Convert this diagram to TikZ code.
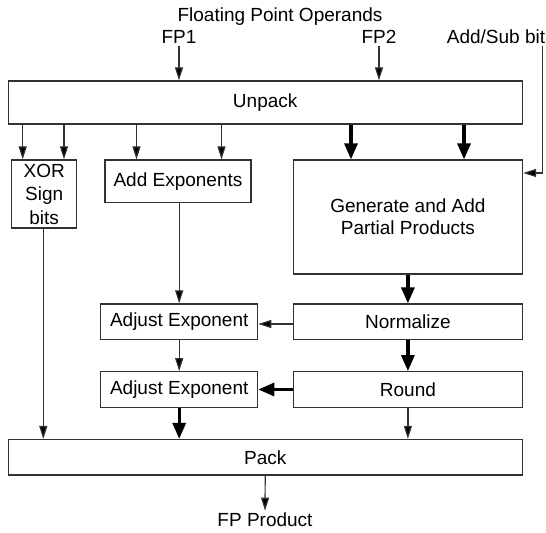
\documentclass[tikz,border=0pt]{standalone}
\usepackage{fontspec}
\setmainfont{Liberation Sans}
\usetikzlibrary{arrows.meta}
\definecolor{linecol}{RGB}{50,50,50}
\tikzset{
  blk/.style={draw=linecol, line width=0.6pt, inner sep=0pt, align=center,
    font=\fontsize{9.5}{11.5}\selectfont},
  lbl/.style={inner sep=1pt, font=\fontsize{9.5}{11.5}\selectfont},
  thinarr/.style={draw=linecol, line width=0.6pt,
    -{Triangle[length=6.5pt,width=4pt,fill=black]}},
  thickarr/.style={draw=black, line width=1.6pt,
    -{Triangle[length=8pt,width=6.5pt]}},
}
\begin{document}
\begin{tikzpicture}[x=0.5pt,y=-0.5pt]
\useasboundingbox (0,0) rectangle (546,533);
% text labels
\node[lbl] (title) at (280,17) {Floating Point Operands};
\node[lbl] (fp1) at (179,37) {FP1};
\node[lbl] (fp2) at (379,37) {FP2};
\node[lbl] (addsub) at (496,37) {Add/Sub bit};
\node[lbl] (product) at (265,520) {FP Product};
% boxes
\node[blk, minimum width=257pt, minimum height=21.5pt] (unpack) at (265.2,102.5) {Unpack};
\node[blk, minimum width=32.5pt, minimum height=34pt, font=\fontsize{9.5}{11.75}\selectfont] (xor) at (44.2,194) {XOR\\Sign\\bits};
\node[blk, minimum width=73pt, minimum height=21.3pt] (addexp) at (178,181.3) {Add Exponents};
\node[blk, minimum width=114.7pt, minimum height=57pt, font=\fontsize{9.5}{11}\selectfont] (gen) at (407.9,217) {Generate and Add\\Partial Products};
\node[blk, minimum width=78.5pt, minimum height=17.7pt] (adj1) at (179.2,321.7) {Adjust Exponent};
\node[blk, minimum width=114.5pt, minimum height=17.7pt] (norm) at (407.9,321.7) {Normalize};
\node[blk, minimum width=78.5pt, minimum height=17.8pt] (adj2) at (179.2,389.5) {Adjust Exponent};
\node[blk, minimum width=114.5pt, minimum height=17.8pt] (round) at (407.9,389.5) {Round};
\node[blk, minimum width=257pt, minimum height=17.8pt] (pack) at (265.2,457.3) {Pack};
% inputs
\draw[thinarr] (fp1.south) -- (unpack.north -| fp1.south);
\draw[thinarr] (fp2.south) -- (unpack.north -| fp2.south);
\coordinate (asb) at (542.7,46);
\draw[thinarr] (asb) |- (gen.east |- 0,173);
% unpack outputs
\draw[thinarr] (unpack.south -| 22.7,0) -- (xor.north -| 22.7,0);
\draw[thinarr] (unpack.south -| 64,0) -- (xor.north -| 64,0);
\draw[thinarr] (unpack.south -| 136.5,0) -- (addexp.north -| 136.5,0);
\draw[thinarr] (unpack.south -| 221.5,0) -- (addexp.north -| 221.5,0);
\draw[thickarr] (unpack.south -| 351,0) -- (gen.north -| 351,0);
\draw[thickarr] (unpack.south -| 464,0) -- (gen.north -| 464,0);
% middle
\draw[thinarr] (addexp.south -| adj1.north) -- (adj1.north);
\draw[thickarr] (gen.south) -- (norm.north);
\draw[thinarr] (norm.west |- 0,324) -- (adj1.east |- 0,324);
\draw[thinarr] (adj1.south) -- (adj2.north);
\draw[thickarr] (norm.south) -- (round.north);
\draw[thickarr] (round.west) -- (adj2.east);
% to pack
\draw[thinarr] (xor.south -| 43.3,0) -- (pack.north -| 43.3,0);
\draw[thickarr] (adj2.south) -- (pack.north -| adj2.south);
\draw[thinarr] (round.south) -- (pack.north -| round.south);
\draw[thinarr] (pack.south) -- (product.north);
\end{tikzpicture}
\end{document}
